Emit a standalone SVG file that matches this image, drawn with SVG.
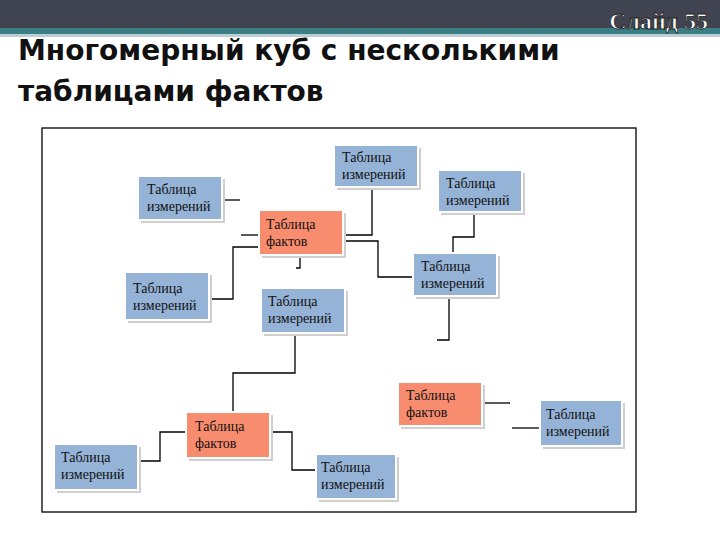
<svg xmlns="http://www.w3.org/2000/svg" width="720" height="540" viewBox="0 0 720 540">
<style>
.sh{fill:#cfcfcf}
.d{fill:#95b3d7;stroke:#fff;stroke-width:2}
.f{fill:#f88c6e;stroke:#fff;stroke-width:2}
.t{font-family:"Liberation Serif",serif;font-size:14px;fill:#111}
.c path{fill:none;stroke:#000;stroke-width:1.3}
</style>
<rect width="720" height="540" fill="#fff"/>
<rect width="720" height="28" fill="#404350"/>
<rect y="28" width="720" height="6" fill="#3b7f86"/>
<rect y="34" width="720" height="3" fill="#b9cfd2"/>
<text x="708" y="29" text-anchor="end" font-family="Liberation Serif,serif" font-size="24" font-weight="bold" fill="#fff" stroke="#222" stroke-width="0.8">Слайд 55</text>
<g font-family="DejaVu Sans,sans-serif" font-size="28" font-weight="bold" fill="#111">
<text x="18" y="60">Многомерный куб с несколькими</text>
<text x="18" y="101">таблицами фактов</text>
</g>
<rect x="42" y="128" width="594" height="384" fill="none" stroke="#000" stroke-width="1.3"/>
<g class="c">
<path d="M223 200H240"/>
<path d="M241 235H259"/>
<path d="M209 299H233V247H259"/>
<path d="M300 258V268H296"/>
<path d="M342 235H372V187"/>
<path d="M342 241H378V277H413"/>
<path d="M474 212V237H453V253"/>
<path d="M449 296V340H437"/>
<path d="M295 333V373H233V412"/>
<path d="M186 432H160V461H138"/>
<path d="M270 432H292V470H316"/>
<path d="M482 403H510"/>
<path d="M512 428H540"/>
</g>
<g id="n1"><rect class="sh" x="337" y="148" width="84" height="42"/><rect class="d" x="334" y="145" width="84" height="42"/><text class="t" x="342" y="162">Таблица</text><text class="t" x="342" y="179">измерений</text></g>
<g id="n2"><rect class="sh" x="141" y="179" width="84" height="44"/><rect class="d" x="138" y="176" width="84" height="44"/><text class="t" x="147" y="194">Таблица</text><text class="t" x="147" y="211">измерений</text></g>
<g id="n3"><rect class="sh" x="441" y="173" width="84" height="42"/><rect class="d" x="438" y="170" width="84" height="42"/><text class="t" x="446" y="188">Таблица</text><text class="t" x="446" y="205">измерений</text></g>
<g id="n4"><rect class="sh" x="262" y="213" width="84" height="45"/><rect class="f" x="259" y="210" width="84" height="45"/><text class="t" x="266" y="229">Таблица</text><text class="t" x="266" y="246">фактов</text></g>
<g id="n5"><rect class="sh" x="416" y="256" width="84" height="43"/><rect class="d" x="413" y="253" width="84" height="43"/><text class="t" x="421" y="271">Таблица</text><text class="t" x="421" y="288">измерений</text></g>
<g id="n6"><rect class="sh" x="128" y="275" width="84" height="48"/><rect class="d" x="125" y="272" width="84" height="48"/><text class="t" x="133" y="293">Таблица</text><text class="t" x="133" y="310">измерений</text></g>
<g id="n7"><rect class="sh" x="264" y="291" width="84" height="45"/><rect class="d" x="261" y="288" width="84" height="45"/><text class="t" x="268" y="306">Таблица</text><text class="t" x="268" y="323">измерений</text></g>
<g id="n8"><rect class="sh" x="401" y="385" width="84" height="44"/><rect class="f" x="398" y="382" width="84" height="44"/><text class="t" x="406" y="400">Таблица</text><text class="t" x="406" y="417">фактов</text></g>
<g id="n9"><rect class="sh" x="543" y="403" width="82" height="46"/><rect class="d" x="540" y="400" width="82" height="46"/><text class="t" x="546" y="419">Таблица</text><text class="t" x="546" y="436">измерений</text></g>
<g id="n10"><rect class="sh" x="189" y="415" width="84" height="46"/><rect class="f" x="186" y="412" width="84" height="46"/><text class="t" x="195" y="431">Таблица</text><text class="t" x="195" y="448">фактов</text></g>
<g id="n11"><rect class="sh" x="57" y="447" width="84" height="46"/><rect class="d" x="54" y="444" width="84" height="46"/><text class="t" x="61" y="462">Таблица</text><text class="t" x="61" y="479">измерений</text></g>
<g id="n12"><rect class="sh" x="319" y="457" width="80" height="45"/><rect class="d" x="316" y="454" width="80" height="45"/><text class="t" x="321" y="472">Таблица</text><text class="t" x="321" y="489">измерений</text></g>
</svg>
